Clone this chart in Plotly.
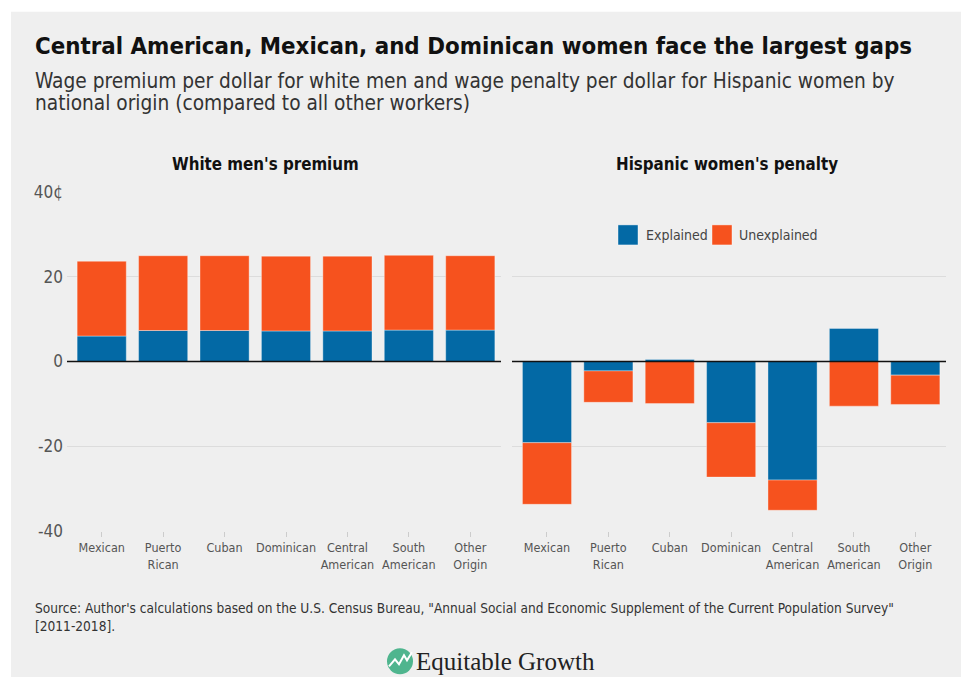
import plotly.graph_objects as go

# ---------------- data ----------------
categories = ["Mexican", "Puerto<br>Rican", "Cuban", "Dominican",
              "Central<br>American", "South<br>American", "Other<br>Origin"]

white_men_explained = [6.0, 7.3, 7.3, 7.2, 7.2, 7.4, 7.4]
white_men_unexplained = [17.6, 17.6, 17.6, 17.6, 17.6, 17.6, 17.5]

hisp_women_explained = [-19.1, -2.2, 0.5, -14.4, -27.9, 7.8, -3.2]
hisp_women_unexplained = [-14.5, -7.4, -9.9, -12.8, -7.1, -10.5, -6.9]

y_tickvals = [-40, -20, 0, 20, 40]
y_ticktext = ["-40", "-20", "0", "20", "40¢"]

series_names = ["Explained", "Unexplained"]
BLUE = "#0369a5"
ORANGE = "#f6521e"

# ---------------- layout helpers ----------------
W, H = 961, 688
BG = "#efefef"
FONT = "DejaVu Sans Condensed"
Y_OFF, Y_SCALE = 9.3, 0.97   # vertical placement calibration


def px_x(p):
    return p / W


def px_y(p):
    return (H - (p - Y_OFF) / Y_SCALE) / H


fig = go.Figure()

edge = dict(width=0.8, color="rgba(255,255,255,0.45)")

fig.add_trace(go.Bar(x=categories, y=white_men_explained, name=series_names[0],
                     marker=dict(color=BLUE, line=edge), xaxis="x", yaxis="y",
                     showlegend=False))
fig.add_trace(go.Bar(x=categories, y=white_men_unexplained, name=series_names[1],
                     marker=dict(color=ORANGE, line=edge), xaxis="x", yaxis="y",
                     showlegend=False))
fig.add_trace(go.Bar(x=categories, y=hisp_women_explained, name=series_names[0],
                     marker=dict(color=BLUE, line=edge), xaxis="x2", yaxis="y2",
                     showlegend=False))
fig.add_trace(go.Bar(x=categories, y=hisp_women_unexplained, name=series_names[1],
                     marker=dict(color=ORANGE, line=edge), xaxis="x2", yaxis="y2",
                     showlegend=False))

ydom = [px_y(530.3), px_y(190.7)]

xaxis_common = dict(
    type="category", showgrid=False, zeroline=False, showline=False,
    ticks="outside", ticklen=5, tickcolor="#cccccc", tickwidth=1,
    tickfont=dict(family=FONT, size=12.5, color="#555555"),
    range=[-0.565, 6.5], fixedrange=True,
)
yaxis_common = dict(
    range=[-40, 40], tickvals=y_tickvals, ticktext=y_ticktext,
    showgrid=True, gridcolor="#dcdcdc", gridwidth=1,
    zeroline=False, showline=False, ticks="",
    tickfont=dict(family=FONT, size=17, color="#555555"),
    domain=ydom, fixedrange=True,
)

fig.update_layout(
    width=W, height=H,
    margin=dict(l=0, r=0, t=0, b=0),
    paper_bgcolor="white", plot_bgcolor=BG,
    barmode="relative", bargap=0.2,
    showlegend=False,
    xaxis=dict(xaxis_common, domain=[px_x(67), px_x(501)], anchor="y"),
    yaxis=dict(yaxis_common, anchor="x", ticklabelstandoff=3),
    xaxis2=dict(xaxis_common, domain=[px_x(512), px_x(946)], anchor="y2",
                range=[-0.57, 6.5]),
    yaxis2=dict(yaxis_common, anchor="x2", showticklabels=False),
)

shapes = []
# gray panel background
shapes.append(dict(type="rect", xref="paper", yref="paper", layer="below",
                   x0=px_x(11), x1=1.0, y0=px_y(676), y1=px_y(11),
                   fillcolor=BG, line=dict(width=0)))
# zero lines (above bars)
for xr, yr in (("x domain", "y"), ("x2 domain", "y2")):
    shapes.append(dict(type="line", xref=xr, yref=yr, x0=0, x1=1, y0=0, y1=0,
                       line=dict(color="#111111", width=1.5), layer="above"))
# custom legend squares
legend_items = [(618, BLUE), (712, ORANGE)]
for x0, col in legend_items:
    shapes.append(dict(type="rect", xref="paper", yref="paper",
                       x0=px_x(x0), x1=px_x(x0 + 20), y0=px_y(244), y1=px_y(224),
                       fillcolor=col, line=dict(width=0.8, color="rgba(255,255,255,0.5)")))
# logo icon
shapes.append(dict(type="circle", xref="paper", yref="paper",
                   x0=px_x(387), x1=px_x(413), y0=px_y(673), y1=px_y(647),
                   fillcolor="#4fb58e", line=dict(width=0)))
shapes.append(dict(type="path", xref="paper", yref="paper",
                   path=(f"M {px_x(389)} {px_y(665)} L {px_x(395)} {px_y(658)} "
                         f"L {px_x(399)} {px_y(663)} L {px_x(404)} {px_y(654)} "
                         f"L {px_x(407)} {px_y(659)} L {px_x(412)} {px_y(651)}"),
                   line=dict(color="white", width=2)))

annotations = []
annotations.append(dict(
    text="<b>Central American, Mexican, and Dominican women face the largest gaps</b>",
    xref="paper", yref="paper", x=px_x(33), y=px_y(45), xanchor="left", yanchor="middle",
    showarrow=False, font=dict(family=FONT, size=23.8, color="#111111")))
annotations.append(dict(
    text="Wage premium per dollar for white men and wage penalty per dollar for Hispanic women by",
    xref="paper", yref="paper", x=px_x(33), y=px_y(80), xanchor="left", yanchor="middle",
    showarrow=False, font=dict(family=FONT, size=20.7, color="#333333")))
annotations.append(dict(
    text="national origin (compared to all other workers)",
    xref="paper", yref="paper", x=px_x(33), y=px_y(102), xanchor="left", yanchor="middle",
    showarrow=False, font=dict(family=FONT, size=20.7, color="#333333")))
annotations.append(dict(
    text="<b>White men's premium</b>", xref="paper", yref="paper",
    x=px_x(265), y=px_y(163), xanchor="center", yanchor="middle", showarrow=False,
    font=dict(family=FONT, size=16.8, color="#111111")))
annotations.append(dict(
    text="<b>Hispanic women's penalty</b>", xref="paper", yref="paper",
    x=px_x(727), y=px_y(163), xanchor="center", yanchor="middle", showarrow=False,
    font=dict(family=FONT, size=16.8, color="#111111")))
for x0, name in zip((644, 737), series_names):
    annotations.append(dict(
        text=name, xref="paper", yref="paper", x=px_x(x0), y=px_y(234),
        xanchor="left", yanchor="middle", showarrow=False,
        font=dict(family=FONT, size=14, color="#444444")))
annotations.append(dict(
    text=("Source: Author's calculations based on the U.S. Census Bureau, \"Annual Social and "
          "Economic Supplement of the Current Population Survey\"<br>[2011-2018]."),
    xref="paper", yref="paper", x=px_x(33), y=px_y(597), xanchor="left", yanchor="top",
    align="left", showarrow=False, font=dict(family=FONT, size=13.6, color="#333333")))
annotations.append(dict(
    text="Equitable Growth", xref="paper", yref="paper", x=px_x(414), y=px_y(660),
    xanchor="left", yanchor="middle", showarrow=False,
    font=dict(family="Liberation Serif", size=25, color="#222222")))

fig.update_layout(shapes=shapes, annotations=annotations)

fig.write_html("out.html", config={"displayModeBar": False},
               post_script="document.body.style.margin='0';document.body.style.overflow='hidden';")
